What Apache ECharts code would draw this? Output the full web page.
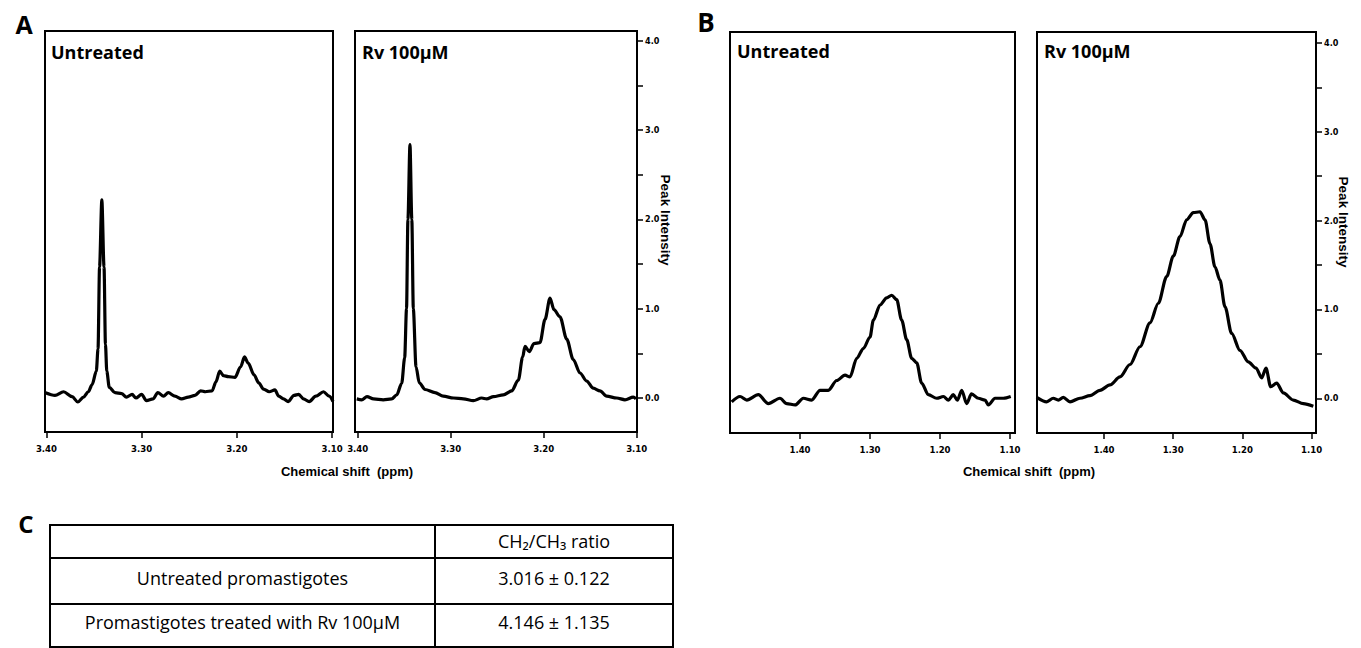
<!DOCTYPE html>
<html>
<head>
<meta charset="utf-8">
<script src="https://cdn.jsdelivr.net/npm/echarts@6.0.0/dist/echarts.min.js"></script>
<style>
html,body{margin:0;padding:0;background:#fff;}
#chart{width:1361px;height:648px;}
</style>
</head>
<body>
<div id="chart"></div>
<script>
// ---------------- DATA ----------------
// Panel A, Untreated (chemical shift ppm / peak intensity)
const shiftA_untreated = [3.401,3.391,3.382,3.373,3.367,3.361,3.356,3.352,3.3476,3.3458,3.3442,3.3418,3.3395,3.3380,3.3366,3.334,3.328,3.321,3.316,3.31,3.306,3.30,3.295,3.288,3.283,3.277,3.272,3.265,3.258,3.251,3.244,3.238,3.233,3.226,3.222,3.218,3.214,3.209,3.202,3.196,3.192,3.188,3.182,3.177,3.172,3.166,3.16,3.156,3.151,3.146,3.14,3.135,3.13,3.124,3.117,3.109,3.103,3.099];
const intensityA_untreated = [0.06,0.03,0.07,0.015,-0.045,0.01,0.07,0.15,0.30,0.55,1.47,2.22,1.47,0.60,0.30,0.12,0.06,0.05,0.01,0.04,0.0,0.04,-0.03,-0.01,0.06,0.02,0.06,0.02,-0.01,0.01,0.03,0.08,0.07,0.08,0.18,0.30,0.25,0.24,0.23,0.35,0.46,0.39,0.26,0.17,0.10,0.07,0.09,0.02,-0.01,-0.04,0.03,0.04,-0.01,-0.04,0.02,0.07,0.02,-0.04];

// Panel A, Rv 100µM
const shiftA_rv = [3.401,3.3957,3.390,3.383,3.3725,3.3634,3.358,3.3527,3.3495,3.3475,3.3460,3.3438,3.3418,3.3402,3.3373,3.3338,3.3276,3.3169,3.308,3.297,3.2864,3.2757,3.2667,3.2613,3.254,3.2434,3.2344,3.2273,3.2226,3.2201,3.2155,3.2105,3.204,3.1986,3.1932,3.189,3.1825,3.1753,3.1682,3.161,3.1538,3.1467,3.1395,3.1323,3.1215,3.1126,3.1037,3.1008];
const intensityA_rv = [-0.01,-0.02,0.015,-0.01,-0.02,-0.01,0.035,0.165,0.45,1.0,2.0,2.84,2.0,1.0,0.35,0.17,0.095,0.06,0.02,0.0,-0.01,-0.03,0.0,-0.01,0.015,0.035,0.08,0.20,0.46,0.58,0.52,0.61,0.62,0.88,1.12,0.99,0.91,0.66,0.43,0.28,0.19,0.11,0.08,0.02,0.0,-0.02,0.01,-0.01];

// Panel B, Untreated
const shiftB_untreated = [1.4976,1.4857,1.476,1.4595,1.4452,1.4286,1.419,1.407,1.3952,1.3833,1.3714,1.3595,1.3476,1.3357,1.3286,1.319,1.3095,1.30,1.2952,1.2857,1.2762,1.269,1.2619,1.2548,1.2476,1.2405,1.2333,1.2262,1.2167,1.2048,1.1952,1.188,1.181,1.1752,1.169,1.162,1.155,1.1452,1.1357,1.131,1.1214,1.1095,1.099];
const intensityB_untreated = [-0.04,0.02,-0.02,0.04,-0.06,0.0,-0.06,-0.075,0.0,-0.02,0.09,0.09,0.2,0.26,0.24,0.45,0.56,0.69,0.88,1.05,1.13,1.16,1.11,0.88,0.66,0.45,0.40,0.17,0.04,0.0,0.02,-0.02,0.04,-0.02,0.09,-0.06,0.05,0.0,-0.02,-0.075,0.0,0.0,0.02];

// Panel B, Rv 100µM
const shiftB_rv = [1.4973,1.4828,1.4733,1.466,1.4588,1.4491,1.4347,1.4202,1.4058,1.3913,1.3769,1.3624,1.348,1.3335,1.3215,1.3094,1.2998,1.2902,1.2805,1.2709,1.2613,1.254,1.2468,1.2396,1.2324,1.2251,1.2155,1.2035,1.1915,1.1803,1.1721,1.1659,1.1591,1.1504,1.1408,1.1264,1.1119,1.0975];
const intensityB_rv = [0.01,-0.04,0.0,-0.02,0.01,-0.04,0.0,0.03,0.09,0.15,0.24,0.38,0.58,0.85,1.07,1.37,1.6,1.82,2.01,2.09,2.10,2.01,1.74,1.48,1.33,1.03,0.73,0.54,0.41,0.34,0.23,0.34,0.13,0.17,0.06,-0.02,-0.06,-0.09];

// Tick values
const xTicksA = [3.40, 3.30, 3.20, 3.10];
const xTicksB = [1.40, 1.30, 1.20, 1.10];
const yTicks = [0, 0.5, 1.0, 1.5, 2.0, 2.5, 3.0, 3.5, 4.0];
const yLabels = [0, 1.0, 2.0, 3.0, 4.0];

// Texts
const panelTitles = ['Untreated', 'Rv 100\u03bcM', 'Untreated', 'Rv 100\u03bcM'];
const panelLetters = ['A', 'B', 'C'];
const xAxisTitle = 'Chemical shift  (ppm)';
const yAxisTitle = 'Peak Intensity';

// Table (panel C)
const tableHeader = ['', 'CH\u2082/CH\u2083 ratio'];
const tableRowLabels = ['Untreated promastigotes', 'Promastigotes treated with Rv 100\u03bcM'];
const tableRowValues = ['3.016 \u00b1 0.122', '4.146 \u00b1 1.135'];

// ---------------- CHART ----------------
const zip = (a, b) => a.map((v, i) => [v, b[i]]);
const tickFont = "'DejaVu Sans Condensed','DejaVu Sans',sans-serif";
const boldSans = "'Liberation Sans',Arial,sans-serif";
const titleFont = "'Open Sans','Noto Sans',sans-serif";

const grids = [
  {left: 45, top: 31, width: 288, height: 401},
  {left: 355, top: 31, width: 282, height: 401},
  {left: 730, top: 32, width: 285, height: 401},
  {left: 1037, top: 32, width: 279, height: 401}
].map(g => Object.assign({show: true, borderColor: '#000', borderWidth: 2, backgroundColor: 'transparent'}, g));

const xRanges = [[3.099, 3.4015], [3.0997, 3.4029], [1.0929, 1.50], [1.0936, 1.4968]];
const yRanges = [[-0.381, 4.112], [-0.381, 4.112], [-0.391, 4.124], [-0.391, 4.124]];
const xTickSets = [xTicksA, xTicksA, xTicksB, xTicksB];

const xAxes = xRanges.map((r, i) => ({
  type: 'value', gridIndex: i, inverse: true, min: r[0], max: r[1], position: 'bottom',
  splitLine: {show: false},
  axisLine: {show: false, onZero: false},
  axisTick: {show: true, length: 6, customValues: xTickSets[i], lineStyle: {color: '#000', width: 1.5}},
  axisLabel: {show: true, customValues: xTickSets[i], margin: 11,
    formatter: v => Number(v).toFixed(2),
    fontFamily: tickFont, fontStyle: 'condensed', fontWeight: 'bold', fontSize: 9.5, color: '#000'}
}));

const yAxes = yRanges.map((r, i) => {
  const showAxis = (i === 1 || i === 3);
  return {
    type: 'value', gridIndex: i, position: 'right', min: r[0], max: r[1],
    splitLine: {show: false},
    axisLine: {show: false, onZero: false},
    axisTick: {show: showAxis, length: 6, customValues: yTicks, lineStyle: {color: '#000', width: 1.5}},
    axisLabel: {show: showAxis, customValues: yLabels, margin: 8,
      formatter: v => Number(v).toFixed(1),
      fontFamily: tickFont, fontStyle: 'condensed', fontWeight: 'bold', fontSize: 9, color: '#000'}
  };
});

const seriesData = [
  zip(shiftA_untreated, intensityA_untreated),
  zip(shiftA_rv, intensityA_rv),
  zip(shiftB_untreated, intensityB_untreated),
  zip(shiftB_rv, intensityB_rv)
];
const series = seriesData.map((d, i) => ({
  type: 'line', xAxisIndex: i, yAxisIndex: i, data: d,
  showSymbol: false, smooth: 0.3, smoothMonotone: 'x',
  lineStyle: {color: '#000', width: 3.2}, clip: true, silent: true
}));

function txt(x, y, text, font, align, valign, rotation) {
  return {
    type: 'text', x: x, y: y, rotation: rotation || 0, silent: true,
    style: {text: text, font: font, fill: '#000',
      textAlign: align, textVerticalAlign: valign, align: align, verticalAlign: valign}
  };
}

const graphics = [];
// panel letters
graphics.push(txt(24, 24, panelLetters[0], "bold 25px " + titleFont, 'center', 'middle'));
graphics.push(txt(706, 22, panelLetters[1], "bold 26px " + titleFont, 'center', 'middle'));
graphics.push(txt(26, 523, panelLetters[2], "bold 24px " + titleFont, 'center', 'middle'));
// panel titles
graphics.push(txt(51, 52, panelTitles[0], "bold 18px " + titleFont, 'left', 'middle'));
graphics.push(txt(362, 52, panelTitles[1], "bold 18px " + titleFont, 'left', 'middle'));
graphics.push(txt(737, 51, panelTitles[2], "bold 18px " + titleFont, 'left', 'middle'));
graphics.push(txt(1044, 51, panelTitles[3], "bold 18px " + titleFont, 'left', 'middle'));
// axis titles
graphics.push(txt(347, 471, xAxisTitle, "bold 13px " + boldSans, 'center', 'middle'));
graphics.push(txt(1029, 471, xAxisTitle, "bold 13px " + boldSans, 'center', 'middle'));
graphics.push(txt(665, 220, yAxisTitle, "bold 13.5px " + boldSans, 'center', 'middle', -Math.PI / 2));
graphics.push(txt(1343, 222, yAxisTitle, "bold 13.5px " + boldSans, 'center', 'middle', -Math.PI / 2));

// table
const tX0 = 50, tX1 = 435, tX2 = 673;
const tRows = [525, 558, 604, 647];
const tLine = {stroke: '#000', lineWidth: 2};
graphics.push({type: 'rect', silent: true, shape: {x: tX0, y: tRows[0], width: tX2 - tX0, height: tRows[3] - tRows[0]}, style: {fill: 'none', stroke: '#000', lineWidth: 2}});
graphics.push({type: 'line', silent: true, shape: {x1: tX1, y1: tRows[0], x2: tX1, y2: tRows[3]}, style: tLine});
graphics.push({type: 'line', silent: true, shape: {x1: tX0, y1: tRows[1], x2: tX2, y2: tRows[1]}, style: tLine});
graphics.push({type: 'line', silent: true, shape: {x1: tX0, y1: tRows[2], x2: tX2, y2: tRows[2]}, style: tLine});
const tFont = "18px " + titleFont;
graphics.push(txt((tX1 + tX2) / 2, 541, tableHeader[1], tFont, 'center', 'middle'));
graphics.push(txt((tX0 + tX1) / 2, 578, tableRowLabels[0], tFont, 'center', 'middle'));
graphics.push(txt((tX1 + tX2) / 2, 578, tableRowValues[0], tFont, 'center', 'middle'));
graphics.push(txt((tX0 + tX1) / 2, 622, tableRowLabels[1], tFont, 'center', 'middle'));
graphics.push(txt((tX1 + tX2) / 2, 622, tableRowValues[1], tFont, 'center', 'middle'));

const chart = echarts.init(document.getElementById('chart'), null, {renderer: 'svg'});
chart.setOption({
  animation: false,
  backgroundColor: '#fff',
  grid: grids,
  xAxis: xAxes,
  yAxis: yAxes,
  series: series,
  graphic: graphics
});
</script>
</body>
</html>
